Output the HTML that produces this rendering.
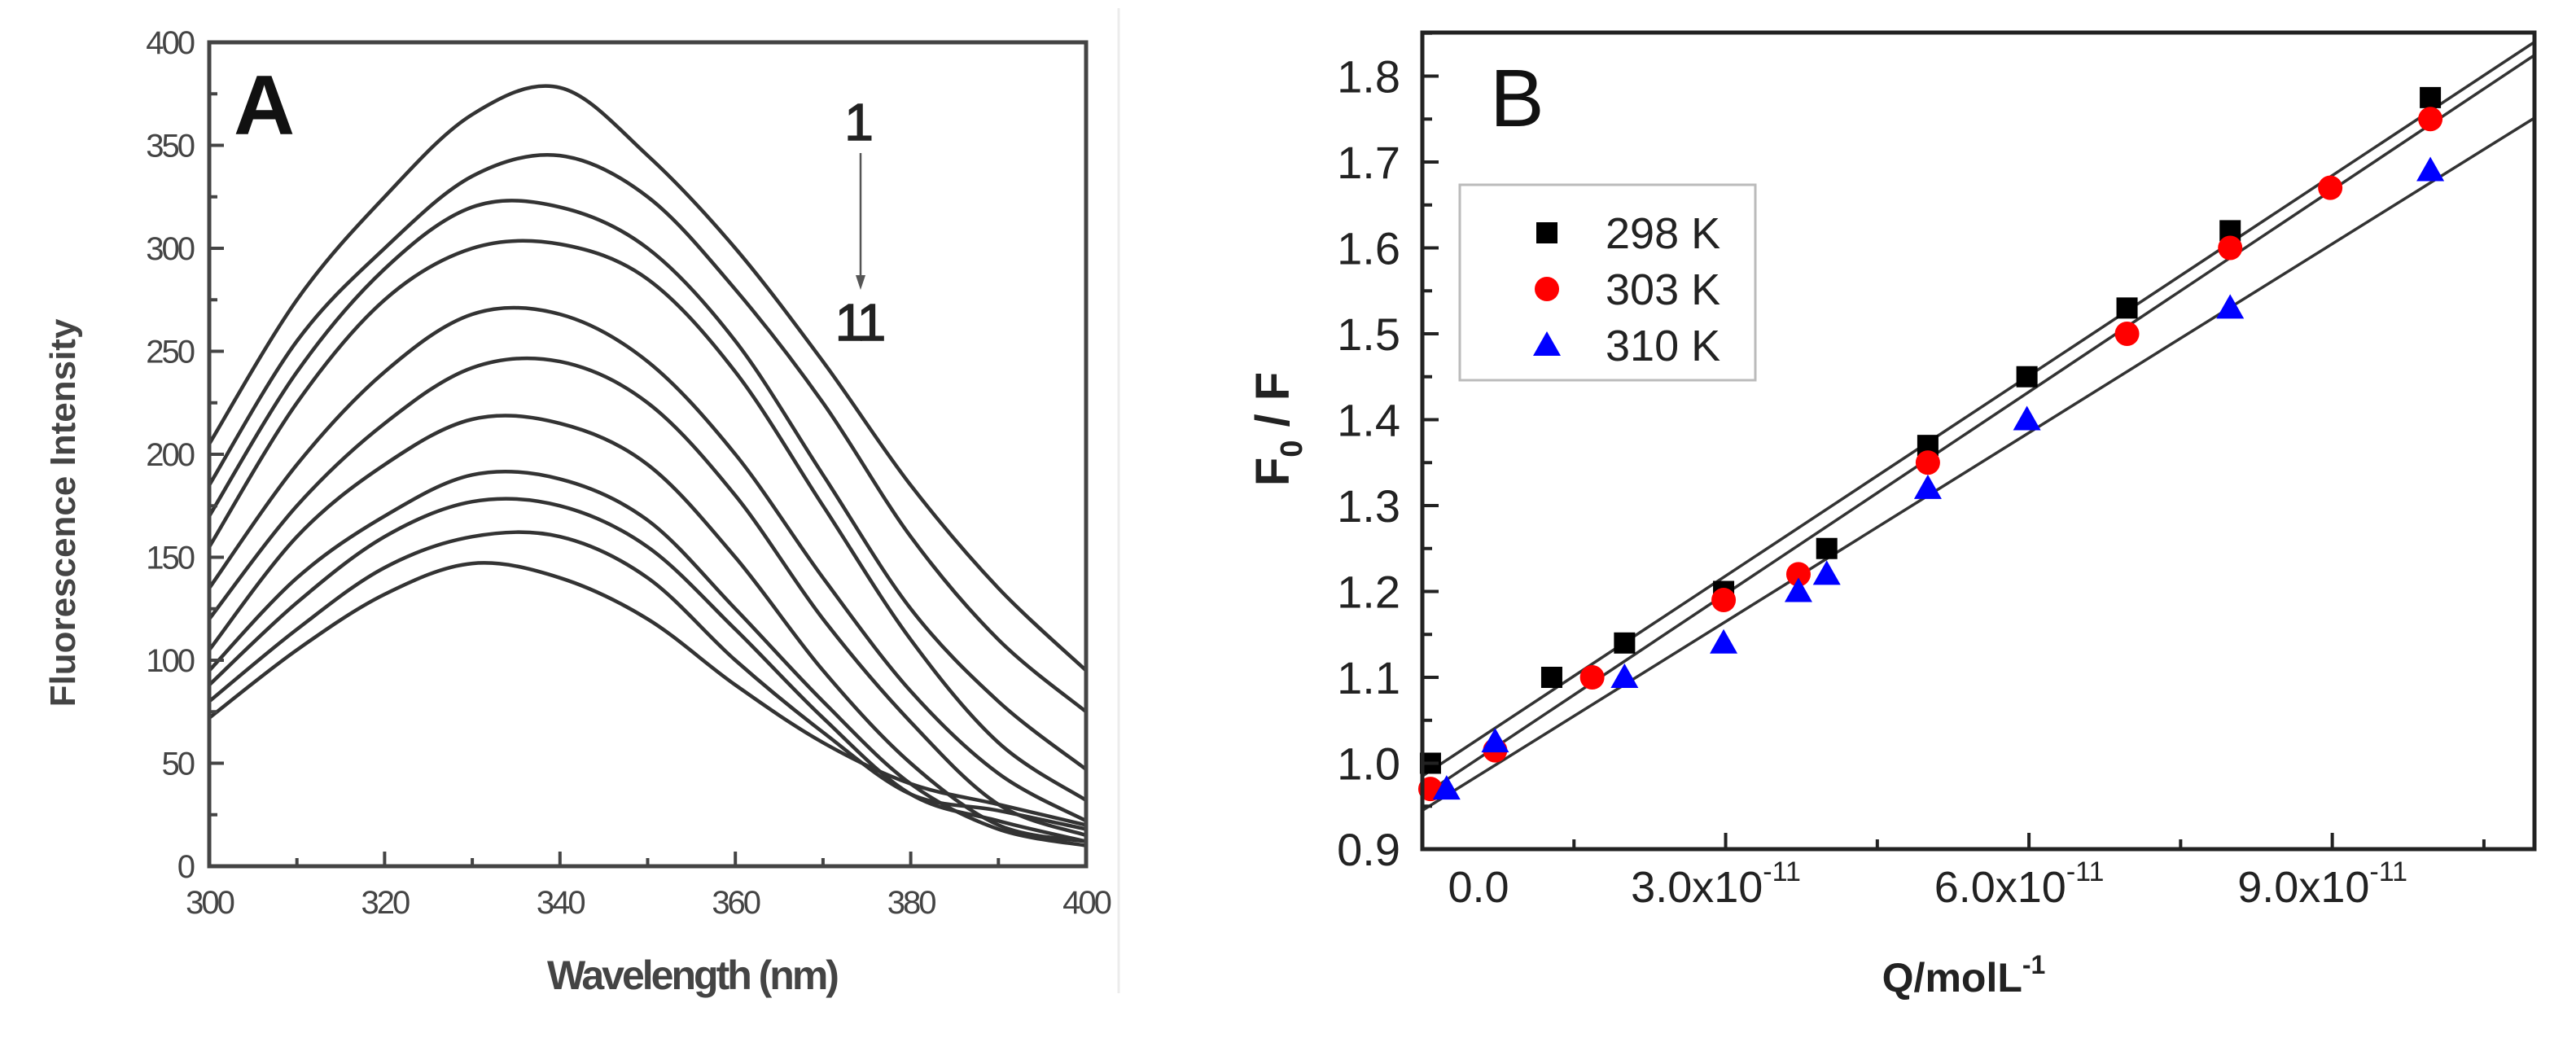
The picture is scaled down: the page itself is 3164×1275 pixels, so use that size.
<!DOCTYPE html>
<html><head><meta charset="utf-8">
<style>
html,body{margin:0;padding:0;background:#fff;}
svg{display:block;}
text{font-family:"Liberation Sans",Arial,sans-serif;}
</style></head>
<body>
<svg id="fig" width="3164" height="1275" viewBox="0 0 3164 1275" xmlns="http://www.w3.org/2000/svg">
  <rect x="0" y="0" width="3164" height="1275" fill="#fff"/>
  <line x1="1374" y1="10" x2="1374" y2="1220" stroke="#ececec" stroke-width="3"/>
  <g id="panelA"></g>
  <g id="panelB"></g>
</svg>
<script>
// ---------- Panel A data ----------
const wavelengths = [300,310,320,330,340,350,360,370,380,390,400];
const curve1  = [205,275,325,365,378,345,300,245,185,135,95];
const curve2  = [185,255,300,335,345,325,280,225,160,110,75];
const curve3  = [170,240,290,320,320,300,255,190,125,80,47];
const curve4  = [155,225,275,300,302,285,240,175,110,60,32];
const curve5  = [135,195,240,268,268,245,200,140,85,45,22];
const curve6  = [120,175,215,242,245,225,180,120,70,30,15];
const curve7  = [105,160,195,217,215,195,150,95,50,20,12];
const curve8  = [95,140,170,190,188,168,125,80,40,18,10];
const curve9  = [88,128,160,177,175,155,115,72,35,22,12];
const curve10 = [80,115,145,160,160,140,100,65,35,27,18];
const curve11 = [72,105,132,147,140,120,88,60,40,30,20];
const curvesA = [curve1,curve2,curve3,curve4,curve5,curve6,curve7,curve8,curve9,curve10,curve11];
const xTicksA = [300,320,340,360,380,400];
const yTicksA = [0,50,100,150,200,250,300,350,400];

// ---------- Panel B data (x in units of 1e-12 mol/L) ----------
const q298 = [0.8,12.8,20,29.8,40,50,59.8,69.7,79.9,99.7];
const f298 = [1.0,1.10,1.14,1.20,1.25,1.37,1.45,1.53,1.62,1.775];
const q303 = [0.8,7.2,16.8,29.8,37.2,50,69.7,79.9,89.8,99.7];
const f303 = [0.97,1.015,1.10,1.19,1.22,1.35,1.50,1.60,1.67,1.75];
const q310 = [2.4,7.2,20,29.8,37.2,40,50,59.8,79.9,99.7];
const f310 = [0.97,1.025,1.10,1.14,1.20,1.22,1.32,1.40,1.53,1.69];
const fitIntercepts = [0.985,0.962,0.945];
const fitSlopes = [0.00777,0.00784,0.00733];
const seriesLabels = ["298 K","303 K","310 K"];
const xTickValsB = [0,30,60,90];
const xTickLabelsB = ["0.0","3.0x10","6.0x10","9.0x10"];
const yTicksB = [0.9,1.0,1.1,1.2,1.3,1.4,1.5,1.6,1.7,1.8];

const NS = "http://www.w3.org/2000/svg";
function mk(tag, attrs, parent, txt){
  const e = document.createElementNS(NS, tag);
  for (const k in attrs) e.setAttribute(k, attrs[k]);
  if (txt !== undefined) e.textContent = txt;
  parent.appendChild(e);
  return e;
}

// ================= Panel A =================
const A = document.getElementById('panelA');
const aL=257, aR=1334, aT=52, aB=1064;
const xA = v => aL + (v-300)/(100)*(aR-aL);
const yA = v => aB - v/400*(aB-aT);

function smoothPath(pts){
  let d = `M${pts[0][0]},${pts[0][1]}`;
  for (let i=0;i<pts.length-1;i++){
    const p0=pts[Math.max(0,i-1)], p1=pts[i], p2=pts[i+1], p3=pts[Math.min(pts.length-1,i+2)];
    const c1x=p1[0]+(p2[0]-p0[0])/6, c1y=p1[1]+(p2[1]-p0[1])/6;
    const c2x=p2[0]-(p3[0]-p1[0])/6, c2y=p2[1]-(p3[1]-p1[1])/6;
    d += ` C${c1x.toFixed(1)},${c1y.toFixed(1)} ${c2x.toFixed(1)},${c2y.toFixed(1)} ${p2[0].toFixed(1)},${p2[1].toFixed(1)}`;
  }
  return d;
}
curvesA.forEach((c,i)=>{
  const pts = wavelengths.map((w,j)=>[xA(w), yA(c[j])]);
  const p = mk('path',{d:smoothPath(pts),fill:'none',stroke:'#333','stroke-width':4.5,'stroke-linejoin':'round'},A);
  
  
});
const frA = mk('rect',{x:aL,y:aT,width:aR-aL,height:aB-aT,fill:'none',stroke:'#444','stroke-width':5},A);


for (let v=0; v<=400; v+=25){
  const major = v%50===0;
  mk('line',{x1:aL,x2:aL+(major?18:10),y1:yA(v),y2:yA(v),stroke:'#444','stroke-width':4},A);
}
yTicksA.forEach(v=>{
  const t = mk('text',{x:aL-20,y:yA(v)+14,'text-anchor':'end','font-size':40,fill:'#444','letter-spacing':'-3'},A,String(v));
  
  
});
for (let v=300; v<=400; v+=10){
  const major = v%20===0;
  mk('line',{x1:xA(v),x2:xA(v),y1:aB,y2:aB-(major?18:10),stroke:'#444','stroke-width':4},A);
}
xTicksA.forEach(v=>{
  const t = mk('text',{x:xA(v),y:aB+58,'text-anchor':'middle','font-size':40,fill:'#444','letter-spacing':'-3'},A,String(v));
  
  
});
let t;
t = mk('text',{x:287,y:165,'font-size':104,'font-weight':'bold',fill:'#111'},A,'A');


t = mk('text',{x:1055,y:172,'text-anchor':'middle','font-size':64,fill:'#222',stroke:'#222','stroke-width':1.5},A,'1');


t = mk('text',{x:1055,y:418,'text-anchor':'middle','font-size':64,fill:'#222',stroke:'#222','stroke-width':1.5,'letter-spacing':'-4'},A,'11');


const arr = mk('line',{x1:1057,y1:188,x2:1057,y2:345,stroke:'#555','stroke-width':2.5},A);


mk('path',{d:'M1051,338 L1057,356 L1063,338 Z',fill:'#555'},A);
t = mk('text',{x:850,y:1215,'text-anchor':'middle','font-size':50,'font-weight':'bold',fill:'#444','letter-spacing':'-3'},A,'Wavelength (nm)');


t = mk('text',{x:0,y:0,'text-anchor':'middle','font-size':44,'font-weight':'bold',fill:'#444',transform:'translate(92,630) rotate(-90)'},A,'Fluorescence Intensity');



// ================= Panel B =================
const B = document.getElementById('panelB');
const bL=1747, bR=3113, bT=40, bB=1043;
const xMaxB = 110, yMinB = 0.9, yMaxB = 0.9 + (bB-bT)/1055;
const xB = v => bL + v/xMaxB*(bR-bL);
const yB = v => bB - (v-yMinB)/(yMaxB-yMinB)*(bB-bT);

const clip = mk('clipPath',{id:'clipB'},B);
mk('rect',{x:bL,y:bT,width:bR-bL,height:bB-bT},clip);
const fitG = mk('g',{'clip-path':'url(#clipB)'},B);
fitIntercepts.forEach((b0,i)=>{
  const l = mk('line',{x1:xB(0),y1:yB(b0),x2:xB(xMaxB),y2:yB(b0+fitSlopes[i]*xMaxB),stroke:'#333','stroke-width':3.5},fitG);
  
  
});
function marker(kind, cx, cy, parent){
  let m;
  if (kind===0) m = mk('rect',{x:cx-13,y:cy-13,width:26,height:26,fill:'#000'},parent);
  else if (kind===1) m = mk('circle',{cx:cx,cy:cy,r:15,fill:'#f00'},parent);
  else m = mk('path',{d:`M${cx},${cy-17} L${cx+17},${cy+13} L${cx-17},${cy+13} Z`,fill:'#00f'},parent);
  return m;
}
[[q298,f298],[q303,f303],[q310,f310]].forEach((s,k)=>{
  s[0].forEach((q,j)=>{
    const m = marker(k, xB(q), yB(s[1][j]), B);
    
    
  });
});
const frB = mk('rect',{x:bL,y:bT,width:bR-bL,height:bB-bT,fill:'none',stroke:'#222','stroke-width':5},B);


for (let v=0.9; v<=1.851; v+=0.05){
  const major = Math.abs(Math.round(v*10)-v*10)<0.01;
  mk('line',{x1:bL,x2:bL+(major?20:12),y1:yB(v),y2:yB(v),stroke:'#222','stroke-width':4},B);
}
yTicksB.forEach(v=>{
  const tt = mk('text',{x:1720,y:yB(v)+20,'text-anchor':'end','font-size':56,fill:'#222'},B,v.toFixed(1));
  
  
});
for (let v=15; v<=105; v+=15){
  const major = v%30===0;
  mk('line',{x1:xB(v),x2:xB(v),y1:bB,y2:bB-(major?20:12),stroke:'#222','stroke-width':4},B);
}
xTickValsB.forEach((v,i)=>{
  const tt = mk('text',{x:(v===0?1816:xB(v)-12),y:1108,'text-anchor':'middle','font-size':54,fill:'#222'},B);
  
  
  tt.appendChild(document.createTextNode(xTickLabelsB[i]));
  if (v!==0){
    const sp = document.createElementNS(NS,'tspan');
    sp.setAttribute('dy','-26'); sp.setAttribute('font-size','34');
    sp.textContent='-11';
    tt.appendChild(sp);
  }
});
t = mk('text',{x:1830,y:155,'font-size':100,fill:'#111'},B,'B');


const leg = mk('g',{},B);


mk('rect',{x:1793,y:227,width:363,height:240,fill:'#fff',stroke:'#bbb','stroke-width':3},leg);
seriesLabels.forEach((s,k)=>{
  const y = 286 + k*69;
  const g = mk('g',{},leg);
  
  
  marker(k, 1900, y, g);
  mk('text',{x:1972,y:y+19,'font-size':54,fill:'#222'},g,s);
});
t = mk('text',{x:2412,y:1218,'text-anchor':'middle','font-size':50,'font-weight':'bold',fill:'#222'},B);


t.appendChild(document.createTextNode('Q/molL'));
let sp = document.createElementNS(NS,'tspan'); sp.setAttribute('dy','-22'); sp.setAttribute('font-size','32'); sp.textContent='-1'; t.appendChild(sp);
t = mk('text',{x:0,y:0,'text-anchor':'middle','font-size':58,'font-weight':'bold',fill:'#222',transform:'translate(1583,527) rotate(-90)'},B);


t.appendChild(document.createTextNode('F'));
sp = document.createElementNS(NS,'tspan'); sp.setAttribute('dy','16'); sp.setAttribute('font-size','38'); sp.textContent='0'; t.appendChild(sp);
sp = document.createElementNS(NS,'tspan'); sp.setAttribute('dy','-16'); sp.textContent=' / F'; t.appendChild(sp);
</script>
</body></html>
